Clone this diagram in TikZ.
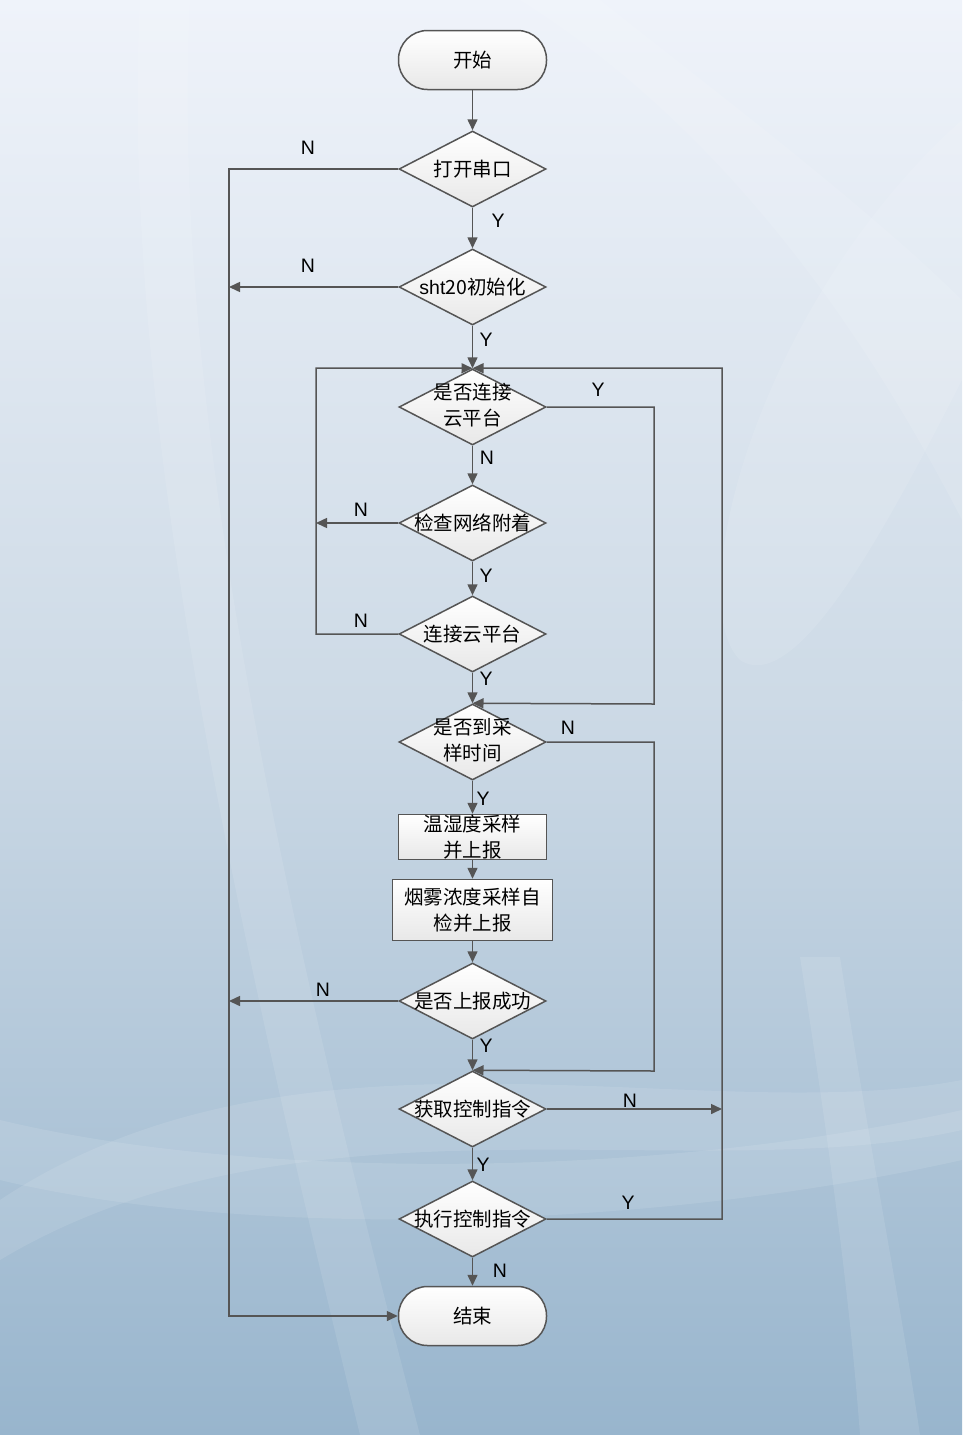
\documentclass[tikz,border=0pt]{standalone}
\usepackage{fontspec}
\setmainfont{Liberation Sans}
\newfontfamily\cjk{Noto Sans CJK SC}
\usetikzlibrary{shapes.geometric,arrows.meta}
\definecolor{bgtop}{RGB}{239,243,250}
\definecolor{bgmid}{RGB}{205,218,230}
\definecolor{bgbot}{RGB}{152,181,205}
\definecolor{ln}{RGB}{85,85,85}
\definecolor{nodebot}{RGB}{232,232,232}
\tikzset{
  base/.style={draw=ln, line width=1.5pt, top color=white, bottom color=nodebot, inner sep=0pt, font=\cjk\fontsize{19.5}{26}\selectfont, align=center},
  dia/.style={base, diamond, minimum width=147pt, minimum height=76pt},
  term/.style={base, rectangle, rounded corners=29pt, minimum width=148pt, minimum height=59pt},
  proc/.style={base, rectangle},
  con/.style={draw=ln, line width=1.5pt},
  arr/.style={con, -{Triangle[length=11pt,width=10pt]}},
  lab/.style={font=\fontsize{19.5}{20}\selectfont, text=black, inner sep=0pt},
  swoosh/.style={fill=white, opacity=0.1, draw=none}
}
\begin{document}
\begin{tikzpicture}[x=1pt,y=-1pt]
\useasboundingbox (0,0) rectangle (962,1435);
% background
\shade[top color=bgtop, bottom color=bgmid] (0,0) rectangle (962,700);
\shade[top color=bgmid, bottom color=bgbot] (0,700) rectangle (962,1435);
\fill[swoosh] (140,0) .. controls (120,400) and (230,900) .. (360,1435) -- (420,1435) .. controls (280,900) and (170,400) .. (190,0) -- cycle;
\fill[swoosh] (520,0) .. controls (760,150) and (900,400) .. (962,520) -- (962,300) .. controls (860,200) and (700,80) .. (600,0) -- cycle;
\fill[swoosh] (962,120) .. controls (760,300) and (680,600) .. (740,660) .. controls (800,700) and (900,500) .. (962,380) -- cycle;
\fill[swoosh] (0,1200) .. controls (300,1000) and (700,1130) .. (962,1080) -- (962,1130) .. controls (700,1190) and (300,1080) .. (0,1260) -- cycle;
\fill[swoosh] (0,1120) .. controls (250,1180) and (650,1180) .. (962,1110) -- (962,1160) .. controls (650,1230) and (250,1240) .. (0,1180) -- cycle;
\fill[swoosh] (800,957) .. controls (830,1150) and (850,1300) .. (860,1435) -- (920,1435) .. controls (900,1300) and (870,1150) .. (840,957) -- cycle;

% nodes
\node[term] (start) at (472.5,60) {开始};
\node[dia] (d1) at (472.5,169) {\makebox[0pt]{打开串口}};
\node[dia] (d2) at (472.5,287) {\makebox[0pt]{{\fontspec{Liberation Sans}sht}20初始化}};
\node[dia] (d3) at (472.5,407) {\makebox[0pt]{\begin{tabular}{@{}c@{}}是否连接\\云平台\end{tabular}}};
\node[dia] (d4) at (472.5,523) {\makebox[0pt]{检查网络附着}};
\node[dia] (d5) at (472.5,634) {\makebox[0pt]{连接云平台}};
\node[dia] (d6) at (472.5,742) {\makebox[0pt]{\begin{tabular}{@{}c@{}}是否到采\\样时间\end{tabular}}};
\node[proc, minimum width=148pt, minimum height=45pt] (b1) at (472.5,837) {温湿度采样\\并上报};
\node[proc, minimum width=160pt, minimum height=61pt] (b2) at (472.5,910) {烟雾浓度采样自\\检并上报};
\node[dia] (d7) at (472.5,1001) {\makebox[0pt]{是否上报成功}};
\node[dia] (d8) at (472.5,1109) {\makebox[0pt]{获取控制指令}};
\node[dia] (d9) at (472.5,1219) {\makebox[0pt]{执行控制指令}};
\node[term] (endn) at (472.5,1316) {结束};

% coordinates
\coordinate (l1) at (229,169);
\coordinate (l2) at (229,1316);
\coordinate (l3) at (229,287);
\coordinate (l4) at (229,1001);
\coordinate (m1) at (316,634);
\coordinate (m2) at (316,368);
\coordinate (m3) at (316,523);
\coordinate (r1) at (722,1219);
\coordinate (r2) at (722,368);
\coordinate (r3) at (722,1109);
\coordinate (s1) at (654,407);
\coordinate (s2) at (654,704);
\coordinate (s3) at (654,742);
\coordinate (s4) at (654,1071);

% connectors
\draw[arr] (start.south) -- (d1.north);
\draw[arr] (d1.south) -- (d2.north);
\draw[arr] (d1.west) -- (l1) -- (l2) -- (endn.west);
\draw[arr] (d2.west) -- (l3);
\draw[arr] (d2.south) -- (d3.north);
\draw[arr] (d5.west) -- (m1) -- (m2) -- (d3.north);
\draw[arr] (d9.east) -- (r1) -- (r2) -- (d3.north);
\draw[arr] (d3.south) -- (d4.north);
\draw[arr] (d4.west) -- (m3);
\draw[arr] (d4.south) -- (d5.north);
\draw[arr] (d5.south) -- (d6.north);
\draw[arr] (d3.east) -- (s1) -- (s2) -- (d6.north);
\draw[arr] (d6.south) -- (b1.north);
\draw[arr] (d6.east) -- (s3) -- (s4) -- (d8.north);
\draw[arr] (b1.south) -- (b2.north);
\draw[arr] (b2.south) -- (d7.north);
\draw[arr] (d7.west) -- (l4);
\draw[arr] (d7.south) -- (d8.north);
\draw[arr] (d8.east) -- (r3);
\draw[arr] (d8.south) -- (d9.north);
\draw[arr] (d9.south) -- (endn.north);

% labels
\node[lab] (t1) at (308,148) {N};
\node[lab] (t2) at (498,221) {Y};
\node[lab] (t3) at (308,266) {N};
\node[lab] (t4) at (486,340) {Y};
\node[lab] (t5) at (598,390) {Y};
\node[lab] (t6) at (487,458) {N};
\node[lab] (t7) at (361,510) {N};
\node[lab] (t8) at (486,576) {Y};
\node[lab] (t9) at (361,621) {N};
\node[lab] (t10) at (486,679) {Y};
\node[lab] (t11) at (568,728) {N};
\node[lab] (t12) at (483,799) {Y};
\node[lab] (t13) at (323,990) {N};
\node[lab] (t14) at (486,1046) {Y};
\node[lab] (t15) at (630,1101) {N};
\node[lab] (t16) at (483,1165) {Y};
\node[lab] (t17) at (628,1203) {Y};
\node[lab] (t18) at (500,1271) {N};
\end{tikzpicture}
\end{document}
